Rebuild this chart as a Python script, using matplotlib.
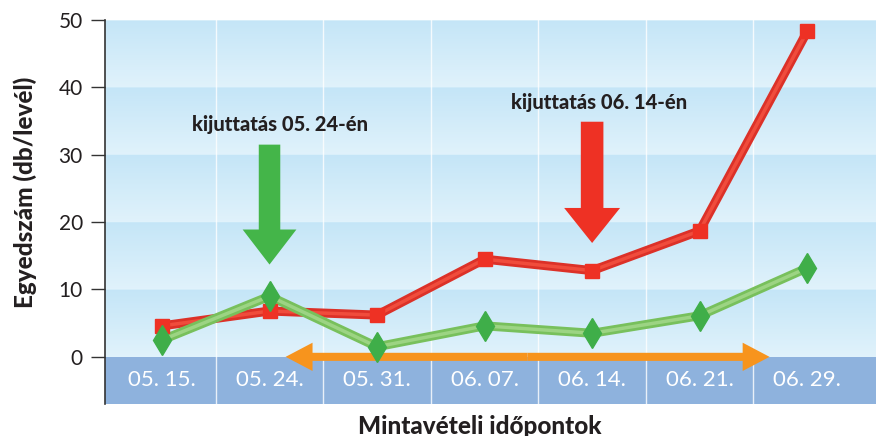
import numpy as np
import matplotlib
matplotlib.use("Agg")
import matplotlib.pyplot as plt
from matplotlib.patches import FancyArrow, Rectangle

# data
dates = ["05. 15.", "05. 24.", "05. 31.", "06. 07.", "06. 14.", "06. 21.", "06. 29."]
red_vals = [4.6, 6.8, 6.2, 14.5, 12.8, 18.7, 48.3]
green_vals = [2.5, 9.0, 1.5, 4.6, 3.5, 6.1, 13.2]
y_ticks = [0, 10, 20, 30, 40, 50]

plt.rcParams['font.family'] = ['Lato', 'DejaVu Sans']

W, H = 876, 436
fig = plt.figure(figsize=(W / 100, H / 100), dpi=100)
ax = fig.add_axes([105 / W, (H - 404) / H, (W - 105) / W, (404 - 20) / H])

x = np.arange(len(dates))
xmin, xmax = -0.53, 6.64
ymin, ymax = -7, 50
ax.set_xlim(xmin, xmax)
ax.set_ylim(ymin, ymax)

# background: light blue bands, darker at top of each 10-unit band
rows = np.linspace(ymax, 0, 500)
frac = (rows % 10) / 10.0
top = np.array([0.77, 0.90, 0.97])
bot = np.array([0.88, 0.95, 0.985])
cols = bot[None, :] + (top - bot)[None, :] * frac[:, None]
ax.imshow(cols[:, None, :], extent=[xmin, xmax, 0, ymax], aspect='auto',
          zorder=0, interpolation='bilinear')

# band holding the date labels
ax.add_patch(Rectangle((xmin, ymin), xmax - xmin, -ymin, color='#8eb2dd', zorder=1, lw=0))

# white separators between dates
for xv in np.arange(0.5, len(dates) - 1, 1.0):
    ax.axvline(xv, color='white', lw=1.0, alpha=0.8, zorder=1.5)

# red series
ax.plot(x, red_vals, color='#dc3128', lw=6.5, zorder=4, solid_capstyle='round')
ax.plot(x, red_vals, color='#f04c3c', lw=2.5, zorder=4.1)
ax.plot(x, red_vals, ls='none', marker='s', ms=10, color='#ee3124', zorder=5)

# green series
ax.plot(x, green_vals, color='#78c05c', lw=6.5, zorder=4.2, solid_capstyle='round')
ax.plot(x, green_vals, color='#9cd483', lw=2.5, zorder=4.3)
ax.plot(x, green_vals, ls='none', marker='d', ms=15, color='#3fae49', zorder=5.1)

# application arrows
ax.add_patch(FancyArrow(1, 31.5, 0, -17.8, width=0.2, head_width=0.5, head_length=5.2,
                        length_includes_head=True, color='#44b549', lw=0, zorder=3))
ax.text(1.1, 34.5, "kijuttatás 05. 24-én", ha='center', va='center',
        fontsize=14.5, fontweight='black', color='#231f20', zorder=6)

ax.add_patch(FancyArrow(4, 34.9, 0, -18.0, width=0.21, head_width=0.52, head_length=5.2,
                        length_includes_head=True, color='#ee3124', lw=0, zorder=3))
ax.text(4.06, 37.7, "kijuttatás 06. 14-én", ha='center', va='center',
        fontsize=14.5, fontweight='black', color='#231f20', zorder=6)

# orange double arrow along zero
mid = (1.15 + 5.65) / 2
for end in (1.15, 5.65):
    ax.add_patch(FancyArrow(mid, 0, end - mid, 0, width=1.2, head_width=4.2, head_length=0.25,
                            length_includes_head=True, color='#f7941d', lw=0, zorder=3.5))

# date labels inside the band
for xi, lab in zip(x, dates):
    ax.text(xi, -3.4, lab, ha='center', va='center', fontsize=16, color='white', zorder=6)

ax.set_xticks([])
ax.set_yticks(y_ticks)
ax.tick_params(axis='y', direction='out', length=10, width=1, color='#333333',
               labelsize=15, labelcolor='#231f20', pad=6)
for s in ['top', 'right', 'bottom']:
    ax.spines[s].set_visible(False)
ax.spines['left'].set_color('#333333')
ax.spines['left'].set_linewidth(1.2)

fig.text(25 / W, 1 - 192 / H, "Egyedszám (db/levél)", rotation=90, ha='center', va='center',
         fontsize=17.5, fontweight='black', color='#231f20')
fig.text(480 / W, 1 - 426 / H, "Mintavételi időpontok", ha='center', va='center',
         fontsize=17.5, fontweight='black', color='#231f20')

fig.savefig("out.png", dpi=100)
